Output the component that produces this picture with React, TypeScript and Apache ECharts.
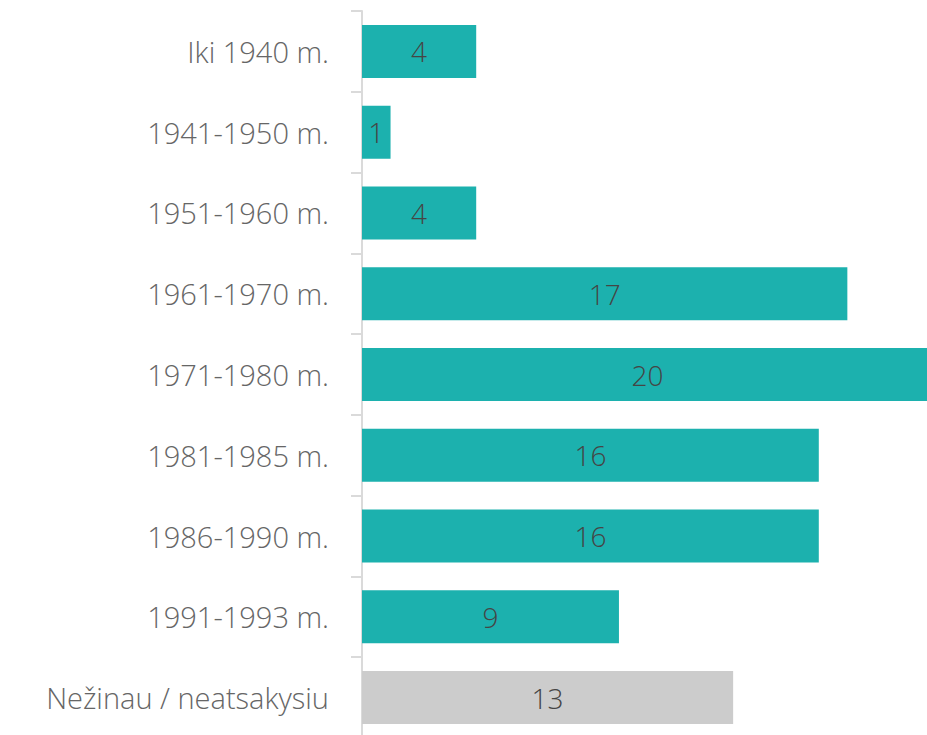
import React, { useEffect, useRef } from "react";
import * as echarts from "echarts";

const categories = [
  "Iki 1940 m.",
  "1941-1950 m.",
  "1951-1960 m.",
  "1961-1970 m.",
  "1971-1980 m.",
  "1981-1985 m.",
  "1986-1990 m.",
  "1991-1993 m.",
  "Nežinau / neatsakysiu",
];
const values = [4, 1, 4, 17, 20, 16, 16, 9, 13];
const barColors = [
  "#1CB1AE", "#1CB1AE", "#1CB1AE", "#1CB1AE", "#1CB1AE",
  "#1CB1AE", "#1CB1AE", "#1CB1AE", "#CCCCCC",
];

export default function App() {
  const ref = useRef<HTMLDivElement>(null);
  useEffect(() => {
    if (!ref.current) return;
    const chart = echarts.init(ref.current, undefined, { renderer: "svg" });
    const font = "'Open Sans', 'Segoe UI', sans-serif";
    chart.setOption({
      animation: false,
      backgroundColor: "#ffffff",
      grid: {
        left: 362,
        width: 571,
        top: 11,
        height: 727,
        containLabel: false,
        outerBoundsMode: "none",
      },
      xAxis: { type: "value", min: 0, max: 20, show: false },
      yAxis: {
        type: "category",
        data: categories,
        inverse: true,
        axisLine: { show: true, lineStyle: { color: "#DADADA", width: 2 } },
        axisTick: { show: true, length: 11, lineStyle: { color: "#DADADA", width: 2 } },
        axisLabel: {
          margin: 33,
          fontFamily: font,
          fontWeight: 300,
          fontSize: 29,
          color: "#666666",
        },
        splitLine: { show: false },
      },
      series: [
        {
          type: "bar",
          data: values.map((v, i) => ({ value: v, itemStyle: { color: barColors[i] } })),
          barWidth: 53,
          label: {
            show: true,
            position: "inside",
            fontFamily: font,
            fontWeight: 300,
            fontSize: 28,
            color: "#454545",
          },
        },
      ],
    });
    return () => chart.dispose();
  }, []);
  return (
    <div
      ref={ref}
      style={{ position: "fixed", left: 0, top: 0, width: 927, height: 735, background: "#fff" }}
    />
  );
}
